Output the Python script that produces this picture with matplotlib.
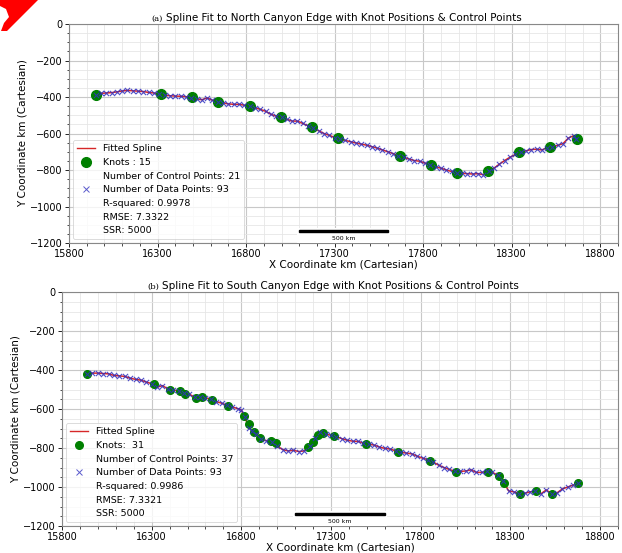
import matplotlib
matplotlib.use("Agg")
import matplotlib.pyplot as plt
from matplotlib.lines import Line2D
from matplotlib.patches import Polygon
from mpl_toolkits.axes_grid1.anchored_artists import AnchoredSizeBar
import matplotlib.font_manager as fm

# --- North canyon edge (panel a) ---
north_x = [15950, 15980, 16010, 16040, 16070, 16100, 16130, 16160, 16190, 16220,
           16250, 16280, 16310, 16340, 16370, 16400, 16430, 16460, 16490, 16520,
           16550, 16580, 16610, 16640, 16670, 16700, 16730, 16760, 16790, 16820,
           16850, 16880, 16910, 16940, 16970, 17000, 17030, 17060, 17090, 17120,
           17150, 17180, 17210, 17240, 17270, 17300, 17330, 17360, 17390, 17420,
           17450, 17480, 17510, 17540, 17570, 17600, 17630, 17660, 17690, 17720,
           17750, 17780, 17810, 17840, 17870, 17900, 17930, 17960, 17990, 18020,
           18050, 18080, 18110, 18140, 18170, 18200, 18230, 18260, 18290, 18320,
           18350, 18380, 18410, 18440, 18470, 18500, 18530, 18560, 18590, 18620,
           18650, 18665]
north_y = [-387, -380, -378, -376, -372, -367, -364, -366, -368, -370,
           -375, -378, -384, -390, -393, -395, -396, -398, -403, -410,
           -415, -405, -418, -425, -432, -438, -440, -440, -445, -449,
           -458, -468, -478, -495, -505, -511, -522, -532, -532, -545,
           -558, -568, -585, -600, -610, -622, -630, -638, -645, -652,
           -658, -664, -672, -680, -690, -700, -710, -722, -730, -740,
           -748, -752, -762, -773, -782, -790, -800, -808, -815, -818,
           -820, -822, -820, -826, -805, -790, -768, -748, -730, -715,
           -703, -695, -688, -686, -690, -678, -672, -665, -655, -625,
           -612, -628]
north_knot_x = [15950, 16322, 16496, 16642, 16820, 16996, 17170, 17318,
                17670, 17844, 17992, 18166, 18342, 18518, 18666]
north_knot_y = [-387, -384, -402, -425, -449, -511, -565, -627,
                -724, -773, -815, -807, -704, -675, -629]
north_stats = ["Knots : 15", "Number of Control Points: 21", "Number of Data Points: 93",
               "R-squared: 0.9978", "RMSE: 7.3322", "SSR: 5000"]

# --- South canyon edge (panel b) ---
south_x = [15941, 15970, 16000, 16030, 16060, 16090, 16120, 16150, 16180, 16210,
           16240, 16270, 16300, 16330, 16360, 16390, 16420, 16450, 16480, 16510,
           16540, 16570, 16600, 16630, 16660, 16690, 16720, 16750, 16780, 16800,
           16820, 16840, 16860, 16880, 16910, 16940, 16970, 17000, 17030, 17060,
           17090, 17120, 17150, 17180, 17210, 17240, 17270, 17300, 17330, 17360,
           17390, 17420, 17450, 17480, 17510, 17540, 17570, 17600, 17630, 17660,
           17690, 17720, 17750, 17780, 17810, 17840, 17870, 17900, 17930, 17960,
           17990, 18020, 18050, 18080, 18110, 18140, 18170, 18200, 18230, 18260,
           18290, 18320, 18350, 18380, 18410, 18440, 18470, 18500, 18530, 18560,
           18590, 18620, 18650, 18679]
south_y = [-419, -416, -416, -418, -420, -428, -430, -433, -442, -448,
           -452, -462, -470, -488, -480, -497, -502, -508, -518, -524,
           -540, -540, -542, -550, -562, -570, -582, -590, -598, -605,
           -640, -695, -712, -730, -755, -762, -770, -790, -808, -815,
           -812, -818, -815, -790, -748, -716, -728, -735, -742, -752,
           -760, -765, -766, -775, -780, -785, -795, -802, -805, -815,
           -822, -826, -830, -842, -852, -860, -872, -888, -900, -910,
           -920, -920, -918, -912, -925, -925, -920, -925, -940, -970,
           -1020, -1025, -1035, -1032, -1025, -1020, -1035, -1015, -1035, -1030,
           -1010, -1000, -990, -981]
south_knot_x = [15941, 16314, 16404, 16459, 16487, 16547, 16579, 16638, 16728, 16816,
                16842, 16872, 16902, 16966, 16992, 17171, 17197, 17225, 17257, 17316,
                17493, 17675, 17850, 17994, 18177, 18237, 18267, 18353, 18442, 18532,
                18679]
south_knot_y = [-419, -472, -501, -509, -524, -543, -540, -552, -584, -636,
                -679, -718, -747, -764, -776, -796, -769, -735, -721, -737,
                -782, -820, -865, -921, -921, -945, -979, -1035, -1020, -1035,
                -981]
south_stats = ["Knots:  31", "Number of Control Points: 37", "Number of Data Points: 93",
               "R-squared: 0.9986", "RMSE: 7.3321", "SSR: 5000"]

W, H = 622, 553
fig = plt.figure(figsize=(W / 100, H / 100), dpi=100)

# red corner mark (top-left of the source image)
corner = [(15, 0), (38, 0), (7, 31), (1, 31), (4, 23), (9, 17), (6, 9), (0, 6), (0, 0)]
fig.patches.append(Polygon([(x / W, 1 - y / H) for x, y in corner], closed=True,
                           transform=fig.transFigure, color='#ff0000', lw=0))


def draw_panel(ax, dx, dy, kx, ky, tag, title, stats, knot_ms):
    ax.plot(dx, dy, color='#d62728', lw=1.1, zorder=3)
    ax.scatter(kx, ky, s=knot_ms ** 2, color='green', zorder=4)
    ax.scatter(dx, dy, marker='x', s=14, color='#3030c0', lw=0.8, alpha=0.85, zorder=5)

    ax.set_xlim(15800, 18900)
    ax.set_ylim(-1200, 0)
    ax.set_xticks(range(15800, 18801, 500))
    ax.set_xticks(range(15800, 18901, 100), minor=True)
    ax.set_yticks(range(-1200, 1, 200))
    ax.set_yticks(range(-1200, 1, 50), minor=True)
    ax.grid(which='major', color='#c8c8c8', lw=0.8)
    ax.grid(which='minor', color='#e6e6e6', lw=0.6)
    ax.set_axisbelow(True)
    ax.tick_params(labelsize=7, length=3, pad=1.5, width=0.6)
    ax.tick_params(which='minor', length=1.8, width=0.5)
    for s in ax.spines.values():
        s.set_color('#888888')
        s.set_linewidth(0.8)

    ax.set_xlabel('X Coordinate km (Cartesian)', fontsize=7.5, labelpad=0)
    ax.set_ylabel('Y Coordinate km (Cartesian)', fontsize=7.5, labelpad=2)
    t = ax.set_title(title, fontsize=7.5, pad=2)
    ax.annotate(tag, xy=(0, 0.45), xycoords=t, xytext=(-2, 0), textcoords='offset points',
                ha='right', va='center', fontsize=6, family='DejaVu Serif')

    handles = [Line2D([], [], color='#d62728', lw=1.0),
               Line2D([], [], marker='o', ls='none', color='green', ms=knot_ms),
               Line2D([], [], ls='none'),
               Line2D([], [], marker='x', ls='none', color='#3030c0', ms=5, mew=0.7, alpha=0.8),
               Line2D([], [], ls='none'),
               Line2D([], [], ls='none'),
               Line2D([], [], ls='none')]
    labels = ['Fitted Spline'] + stats
    leg = ax.legend(handles, labels, loc='lower left', fontsize=6.8, borderaxespad=0.4,
                    handlelength=2.0, labelspacing=0.5, framealpha=0.8, fancybox=True)
    leg.get_frame().set_linewidth(0.6)

    bar = AnchoredSizeBar(ax.transData, 500, '500 km', 'lower center', pad=0.3,
                          borderpad=0.0, sep=3, frameon=True, size_vertical=12,
                          color='black', fontproperties=fm.FontProperties(size=4.5))
    bar.patch.set_edgecolor('none')
    ax.add_artist(bar)


ax1 = fig.add_axes([69 / W, 1 - 243 / H, 549 / W, 219 / H])
draw_panel(ax1, north_x, north_y, north_knot_x, north_knot_y, '(a)',
           'Spline Fit to North Canyon Edge with Knot Positions & Control Points',
           north_stats, 7)

ax2 = fig.add_axes([62 / W, 1 - 526 / H, 556 / W, 234 / H])
draw_panel(ax2, south_x, south_y, south_knot_x, south_knot_y, '(b)',
           'Spline Fit to South Canyon Edge with Knot Positions & Control Points',
           south_stats, 5.5)

fig.savefig('out.png', dpi=100)
